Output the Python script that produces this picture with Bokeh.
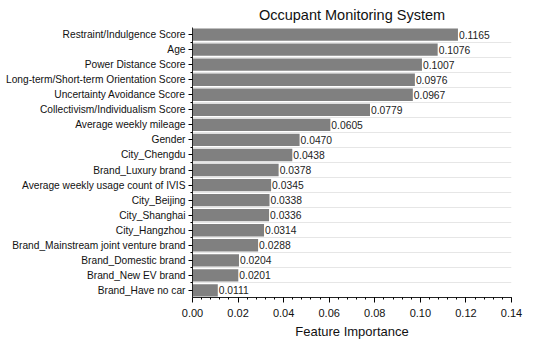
from bokeh.plotting import figure
from bokeh.models import ColumnDataSource, Range1d, FixedTicker, LabelSet
from bokeh.core.properties import value
from bokeh.embed import file_html
from bokeh.resources import INLINE

features = ["Restraint/Indulgence Score", "Age", "Power Distance Score",
            "Long-term/Short-term Orientation Score", "Uncertainty Avoidance Score",
            "Collectivism/Individualism Score", "Average weekly mileage", "Gender",
            "City_Chengdu", "Brand_Luxury brand", "Average weekly usage count of IVIS",
            "City_Beijing", "City_Shanghai", "City_Hangzhou",
            "Brand_Mainstream joint venture brand", "Brand_Domestic brand",
            "Brand_New EV brand", "Brand_Have no car"]
importance = [0.1165, 0.1076, 0.1007, 0.0976, 0.0967, 0.0779, 0.0605, 0.0470,
              0.0438, 0.0378, 0.0345, 0.0338, 0.0336, 0.0314, 0.0288, 0.0204,
              0.0201, 0.0111]
x_ticks = [0.0, 0.02, 0.04, 0.06, 0.08, 0.10, 0.12, 0.14]

n = len(features)
idx = list(range(n))
src = ColumnDataSource(dict(y=idx, v=importance,
                            lab=["%.4f" % v for v in importance]))

FONT = "Liberation Sans"
p = figure(width=550, height=341, output_backend="svg", toolbar_location=None,
           x_range=Range1d(0, 0.14), y_range=Range1d(n - 0.53, -0.47),
           title="Occupant Monitoring System",
           min_border_left=192, min_border_right=39, min_border_bottom=43,
           min_border_top=27)
p.outline_line_color = None
p.background_fill_color = "white"
p.border_fill_color = "white"

p.title.text_font = FONT
p.title.text_font_size = "14.5px"
p.title.text_font_style = "normal"
p.title.align = "center"
p.title.text_color = "#111111"
p.title.offset = 0
p.title.standoff = 9

p.hbar(y="y", right="v", left=0, height=0.82, source=src,
       fill_color="#808080", line_color=None)

labels = LabelSet(x="v", y="y", text="lab", source=src, x_offset=1,
                  text_baseline="middle", text_font_size="10.3px",
                  text_font=value(FONT), text_color="#222222")
p.add_layout(labels)

# y axis
p.yaxis.ticker = FixedTicker(ticks=idx, minor_ticks=[i + 0.5 for i in range(-1, n)])
p.yaxis.major_label_overrides = {i: f for i, f in enumerate(features)}
p.yaxis.major_label_text_font = FONT
p.yaxis.major_label_text_font_size = "10.2px"
p.yaxis.major_label_text_color = "#111111"
p.yaxis.major_tick_out = 4
p.yaxis.major_tick_in = 0
p.yaxis.minor_tick_out = 2
p.yaxis.minor_tick_in = 0
p.yaxis.axis_line_color = "#222222"
p.yaxis.major_label_standoff = 3

# x axis
p.xaxis.ticker = FixedTicker(ticks=x_ticks,
                             minor_ticks=[round(i * 0.004, 4) for i in range(36)])
p.xaxis.major_label_overrides = {t: "%.2f" % t for t in x_ticks}
p.xaxis.major_label_text_font = FONT
p.xaxis.major_label_text_font_size = "11px"
p.xaxis.major_label_text_color = "#111111"
p.xaxis.major_tick_out = 5
p.xaxis.major_tick_in = 0
p.xaxis.minor_tick_out = 2
p.xaxis.minor_tick_in = 0
p.xaxis.axis_line_color = "#222222"
p.xaxis.major_label_standoff = 6
p.xaxis.axis_label = "Feature Importance"
p.xaxis.axis_label_text_font = FONT
p.xaxis.axis_label_text_font_size = "13px"
p.xaxis.axis_label_text_font_style = "normal"
p.xaxis.axis_label_text_color = "#111111"
p.xaxis.axis_label_standoff = 4

p.xgrid.grid_line_color = None
p.ygrid.ticker = FixedTicker(ticks=[i + 0.5 for i in range(n - 1)])
p.ygrid.grid_line_color = "#e6e6e6"
p.ygrid.grid_line_width = 1

open("out.html", "w").write(file_html(p, INLINE))
